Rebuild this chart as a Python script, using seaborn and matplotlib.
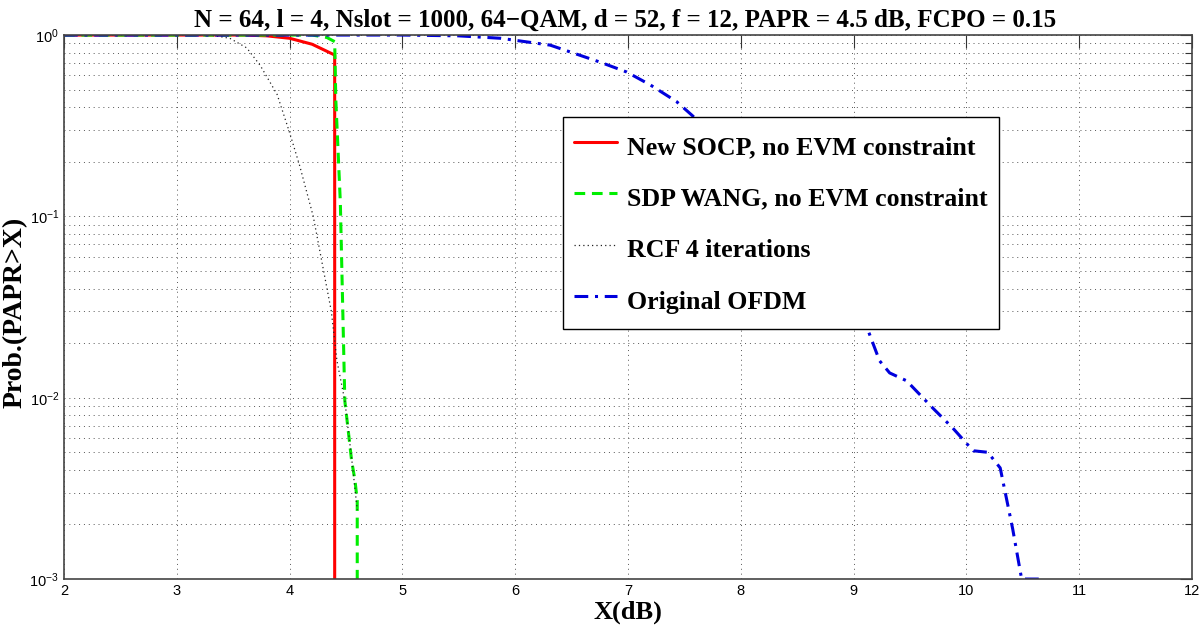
import matplotlib
matplotlib.use("Agg")
import matplotlib.pyplot as plt
import matplotlib.ticker as mticker
import numpy as np
import pandas as pd
import seaborn as sns

# CCDF curves
socp_x = [2.0, 3.6, 3.8, 4.0, 4.2, 4.4, 4.4]
socp_y = [1.0, 1.0, 0.99, 0.96, 0.89, 0.776, 0.001]

wang_x = [2.0, 4.2, 4.33, 4.40, 4.41, 4.43, 4.45, 4.47, 4.49, 4.52, 4.55, 4.58, 4.60, 4.60]
wang_y = [1.0, 1.0, 0.97, 0.92, 0.44, 0.23, 0.12, 0.034, 0.0096, 0.0066, 0.0045, 0.0035, 0.0027, 0.001]

rcf_x = [2.0, 3.3, 3.47, 3.62, 3.74, 3.89, 4.0, 4.09, 4.21, 4.37, 4.42, 4.49, 4.56, 4.60]
rcf_y = [1.0, 1.0, 0.96, 0.85, 0.68, 0.47, 0.29, 0.19, 0.10, 0.030, 0.016, 0.0096, 0.0041, 0.0024]

ofdm_x = [2.0, 5.0, 5.5, 5.87, 6.31, 6.75, 6.99, 7.2, 7.43, 7.57, 8.0, 8.5, 8.9, 9.13,
          9.23, 9.32, 9.47, 9.70, 9.88, 10.06, 10.19, 10.30, 10.41, 10.49, 10.65]
ofdm_y = [1.0, 1.0, 0.99, 0.96, 0.88, 0.71, 0.625, 0.53, 0.43, 0.36, 0.2, 0.085, 0.04, 0.0234,
          0.016, 0.0137, 0.0124, 0.0088, 0.0068, 0.0051, 0.005, 0.0041, 0.0019, 0.001, 0.001]

labels = ["New SOCP, no EVM constraint", "SDP WANG, no EVM constraint",
          "RCF 4 iterations", "Original OFDM"]

sns.set_theme(style="white")
plt.rcParams["font.family"] = ["Liberation Serif", "DejaVu Serif"]
plt.rcParams["mathtext.fontset"] = "custom"
plt.rcParams["mathtext.rm"] = "Liberation Sans"
plt.rcParams["mathtext.it"] = "Liberation Sans"
plt.rcParams["text.color"] = "black"
plt.rcParams["axes.labelcolor"] = "black"
plt.rcParams["xtick.color"] = "black"
plt.rcParams["ytick.color"] = "black"

fig = plt.figure(figsize=(12, 6.26), dpi=100)
ax = fig.add_axes([0.0533, 0.075, 0.94, 0.869])

series = [
    (socp_x, socp_y, "#ff0000", 2.2, "-"),
    (wang_x, wang_y, "#00ee00", 2.2, (0, (3.5, 2.2))),
    (rcf_x, rcf_y, "#222222", 0.9, (0, (1, 2.5))),
    (ofdm_x, ofdm_y, "#0000dd", 2.2, (0, (4.5, 2.2, 1, 2.2))),
]
for (xs, ys, col, lw, ls), lab in zip(series, labels):
    df = pd.DataFrame({"x": xs, "y": ys})
    sns.lineplot(data=df, x="x", y="y", ax=ax, color=col, linewidth=lw,
                 linestyle=ls, sort=False, estimator=None, label=lab)

ax.set_yscale("log")
ax.set_xlim(2, 12)
ax.set_ylim(1e-3, 1)
ax.xaxis.set_major_locator(mticker.MultipleLocator(1))
ax.yaxis.set_major_locator(mticker.LogLocator(base=10, numticks=10))
ax.yaxis.set_minor_locator(mticker.LogLocator(base=10, subs=np.arange(2, 10), numticks=20))
ax.yaxis.set_minor_formatter(mticker.NullFormatter())

ax.grid(True, which="major", axis="both", color="#555555", linestyle=(0, (1, 4)), linewidth=0.7)
ax.grid(True, which="minor", axis="y", color="#555555", linestyle=(0, (1, 4)), linewidth=0.7)

ax.tick_params(axis="both", which="both", direction="in", top=True, right=True,
               labelsize=10.5, color="#333333")
ax.tick_params(axis="both", which="major", length=9, width=0.8)
ax.tick_params(axis="both", which="minor", length=5, width=0.8)
for lab in ax.get_xticklabels() + ax.get_yticklabels():
    lab.set_fontfamily("Liberation Sans")
for sp in ax.spines.values():
    sp.set_color("#444444")
    sp.set_linewidth(1.2)

ax.set_xlabel("X(dB)", fontsize=19, fontweight="bold", labelpad=2)
ax.set_ylabel("Prob.(PAPR>X)", fontsize=20, fontweight="bold")
ax.yaxis.set_label_coords(-0.0325, 0.49)
ax.set_title("N = 64, l = 4, Nslot = 1000, 64\u2212QAM, d = 52, f = 12, PAPR = 4.5 dB, FCPO = 0.15",
             fontsize=18, fontweight="bold", pad=6, x=0.497)

leg = ax.legend(loc="upper left", bbox_to_anchor=(0.442, 0.849), borderaxespad=0,
                prop={"family": "Liberation Serif", "weight": "bold", "size": 18.6},
                fancybox=False, framealpha=1, edgecolor="black", labelspacing=0.72,
                handlelength=1.65, handleheight=1.59, handletextpad=0.38, borderpad=0.46)
leg.get_frame().set_linewidth(1.0)

fig.savefig("out.png", dpi=100)
